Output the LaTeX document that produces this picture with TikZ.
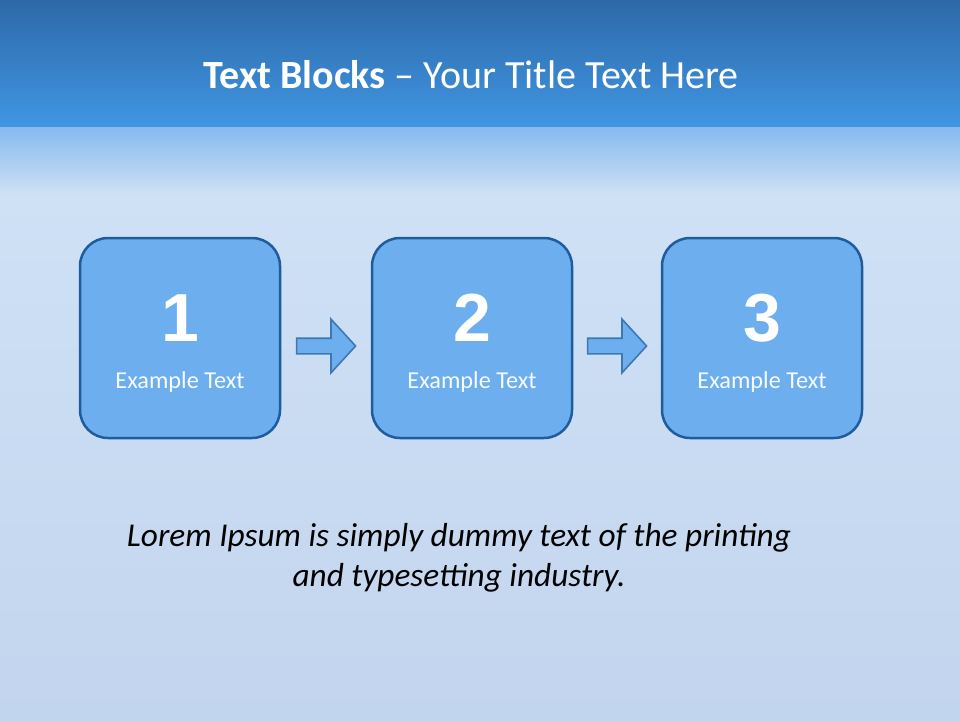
\documentclass[tikz,border=0pt]{standalone}
\usepackage{fontspec}
\setmainfont{Carlito}
\newfontfamily\arialfont{Liberation Sans}
\usetikzlibrary{shapes.arrows}
\definecolor{bandtop}{HTML}{2D69A8}
\definecolor{bandbot}{HTML}{4096E3}
\definecolor{bgA}{HTML}{86BAEE}
\definecolor{bgB}{HTML}{CFE1F5}
\definecolor{bgC}{HTML}{C2D5EE}
\definecolor{boxfill}{HTML}{6CAEEE}
\definecolor{boxline}{HTML}{1E5C9E}
\definecolor{arrline}{HTML}{3C78B5}
\tikzset{
  stepbox/.style={draw=boxline, line width=2.5pt, fill=boxfill, rounded corners=28pt,
    minimum width=200pt, minimum height=200pt, inner sep=0pt},
  numtext/.style={text=white, font=\arialfont\bfseries\fontsize{68}{68}\selectfont, inner sep=0pt},
  lbltext/.style={text=white!95!boxfill, font=\fontsize{24.3}{28}\selectfont, inner sep=0pt},
  flowarrow/.style={single arrow, draw=arrline, line width=1.6pt, fill=boxfill,
    inner xsep=0pt, inner ysep=7pt, text height=0pt, text depth=0pt,
    single arrow head extend=19pt, single arrow tip angle=95,
    minimum height=59pt, shape border rotate=0}
}
\begin{document}
\begin{tikzpicture}[x=1pt,y=-1pt]
\useasboundingbox (0,0) rectangle (960,720);
% background
\fill[top color=bandtop, bottom color=bandbot] (0,0) rectangle (960,127);
\fill[top color=bgA, bottom color=bgB] (0,127) rectangle (960,195);
\fill[top color=bgB, bottom color=bgC] (0,195) rectangle (960,720);
% title
\node[text=white, font=\fontsize{40}{46}\selectfont, inner sep=0pt] (title) at (471,75)
  {\textbf{Text Blocks} -- Your Title Text Here};
% boxes
\node[stepbox] (b1) at (180,338) {};
\node[stepbox] (b2) at (472,338) {};
\node[stepbox] (b3) at (762,338) {};
\node[numtext] (n1) at (180,318) {1};
\node[numtext] (n2) at (472,318) {2};
\node[numtext] (n3) at (762,318) {3};
\node[lbltext] (t1) at (180,382) {Example Text};
\node[lbltext] (t2) at (472,382) {Example Text};
\node[lbltext] (t3) at (762,382) {Example Text};
% arrows
\node[flowarrow] (a1) at (322.5,346) {};
\node[flowarrow] (a2) at (613.5,346) {};
% bottom text
\node[align=center, font=\itshape\fontsize{33.3}{40}\selectfont, inner sep=0pt] (lorem) at (459,558)
  {Lorem Ipsum is simply dummy text of the printing\\and typesetting industry.};
\end{tikzpicture}
\end{document}
